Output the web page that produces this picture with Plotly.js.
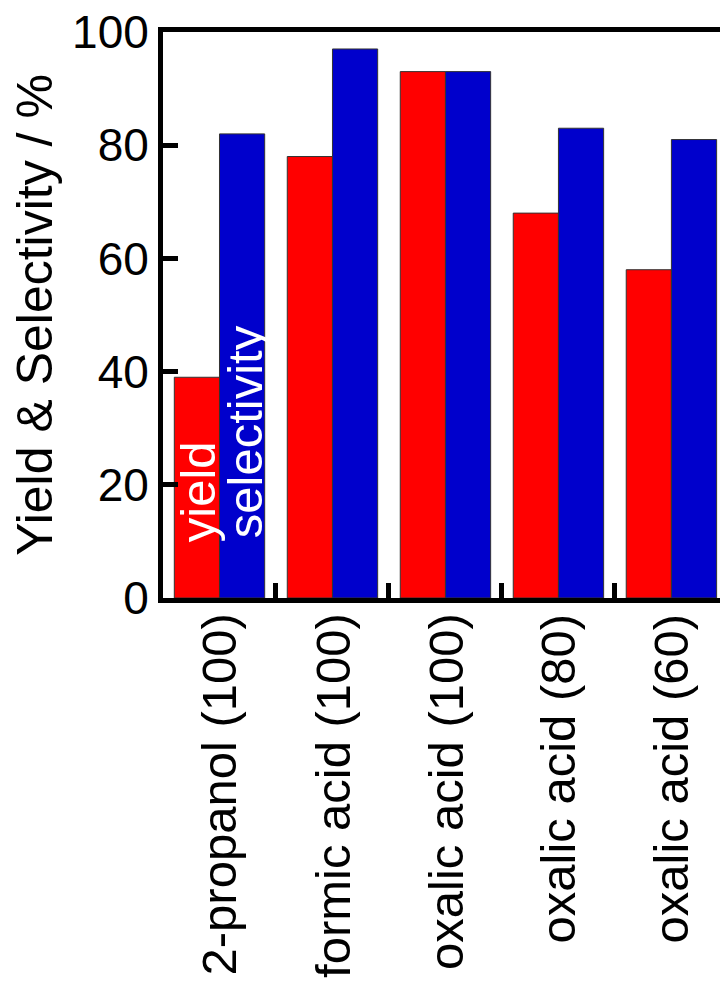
<!DOCTYPE html>
<html>
<head>
<meta charset="utf-8">
<script src="https://cdn.plot.ly/plotly-3.0.1.min.js"></script>
<style>html,body{margin:0;padding:0;background:#fff;}#chart{width:720px;height:983px;}</style>
</head>
<body>
<div id="chart"></div>
<script>
const categories = ["2-propanol (100)", "formic acid (100)", "oxalic acid (100)", "oxalic acid (80)", "oxalic acid (60)"];
const yieldValues = [39, 78, 93, 68, 58];
const selectivityValues = [82, 97, 93, 83, 81];
const yTickVals = [0, 20, 40, 60, 80, 100];
const seriesNames = ["yield", "selectivity"];

const FONT = "Liberation Sans, Arial, Helvetica, sans-serif";

const traces = [
  {type: "bar", name: seriesNames[0], x: categories, y: yieldValues,
   marker: {color: "#ff0000", line: {color: "#333333", width: 1}}},
  {type: "bar", name: seriesNames[1], x: categories, y: selectivityValues,
   marker: {color: "#0000cc", line: {color: "#333333", width: 1}}}
];

const catLabels = categories.map((c, i) => ({
  xref: "x", yref: "paper", x: i, y: 0, yshift: -13, text: c, textangle: -90,
  showarrow: false, xanchor: "center", yanchor: "top",
  font: {color: "#000000", size: 49, family: FONT}
}));

const layout = {
  width: 720, height: 983,
  margin: {l: 163, r: 0, t: 32, b: 385},
  paper_bgcolor: "#ffffff", plot_bgcolor: "#ffffff",
  showlegend: false,
  barmode: "group", bargap: 0.2, bargroupgap: 0,
  font: {family: FONT, color: "#000000", size: 48},
  xaxis: {
    type: "category", range: [-0.5, 4.43],
    tickson: "boundaries", ticks: "inside", ticklen: 15, tickwidth: 5, tickcolor: "#000",
    showticklabels: false,
    showline: true, linewidth: 5, linecolor: "#000", mirror: true,
    showgrid: false, zeroline: false, fixedrange: true
  },
  yaxis: {
    range: [0, 100], tickvals: yTickVals, ticktext: yTickVals.map(String),
    ticks: "inside", ticklen: 15, tickwidth: 5, tickcolor: "#000",
    tickfont: {size: 46, family: FONT}, ticklabelstandoff: 0,
    showline: true, linewidth: 5, linecolor: "#000",
    showgrid: false, zeroline: false, fixedrange: true,
    title: {text: "Yield & Selectivity / %", font: {size: 50, family: FONT}, standoff: 5}
  },
  annotations: [
    {xref: "x", yref: "y", x: 0, y: 9.5, xshift: -22, text: seriesNames[0], textangle: -90,
     showarrow: false, xanchor: "center", yanchor: "bottom", font: {color: "#ffffff", size: 49, family: FONT}},
    {xref: "x", yref: "y", x: 0, y: 10.2, xshift: 25, text: seriesNames[1], textangle: -90,
     showarrow: false, xanchor: "center", yanchor: "bottom", font: {color: "#ffffff", size: 49, family: FONT}}
  ].concat(catLabels)
};

Plotly.newPlot("chart", traces, layout, {displayModeBar: false, staticPlot: true});
</script>
</body>
</html>
